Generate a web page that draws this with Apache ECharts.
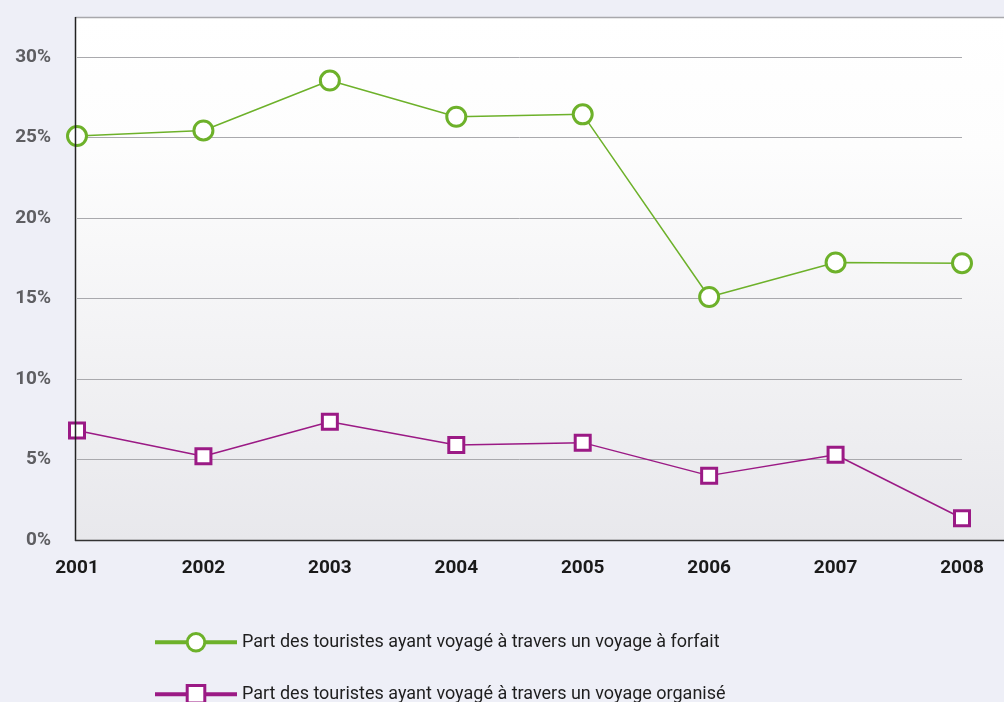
<!DOCTYPE html>
<html>
<head>
<meta charset="utf-8">
<script src="https://cdn.jsdelivr.net/npm/echarts@6/dist/echarts.min.js"></script>
<style>
  html, body { margin: 0; padding: 0; background: #eeeff7; }
  #chart { width: 1004px; height: 702px; }
</style>
</head>
<body>
<div id="chart"></div>
<script>
var years = ['2001', '2002', '2003', '2004', '2005', '2006', '2007', '2008'];
var forfait = [25.1, 25.45, 28.55, 26.3, 26.45, 15.1, 17.25, 17.2];
var organise = [6.8, 5.2, 7.35, 5.9, 6.05, 4.0, 5.3, 1.35];
var nameForfait = 'Part des touristes ayant voyagé à travers un voyage à forfait';
var nameOrganise = 'Part des touristes ayant voyagé à travers un voyage organisé';

var green = '#6db12a';
var purple = '#9b1a85';

// une légende par série, empilées
function legendFor(name, top) {
    return {
        left: 148,
        top: top,
        itemWidth: 82,
        itemHeight: 22,
        itemGap: 8,
        textStyle: { fontSize: 18, color: '#1e1e1e', fontFamily: 'Roboto' },
        lineStyle: { width: 4 },
        itemStyle: { borderWidth: 3 },
        data: [name]
    };
}

var myChart = echarts.init(document.getElementById('chart'));
var option = {
    backgroundColor: '#eeeff7',
    textStyle: { fontFamily: 'Roboto' },
    animation: false,
    grid: { left: 77, right: 42, top: 17, bottom: 162 },
    // fond de la zone de tracé (va jusqu'au bord droit)
    graphic: [
        {
            type: 'rect', z: -10, silent: true,
            shape: { x: 75, y: 17, width: 929, height: 523 },
            style: {
                fill: new echarts.graphic.LinearGradient(0, 0, 0, 1, [
                    { offset: 0, color: '#ffffff' },
                    { offset: 0.25, color: '#fdfdfd' },
                    { offset: 1, color: '#e8e8ec' }
                ])
            }
        },
        {
            type: 'line', z: 5, silent: true,
            shape: { x1: 75, y1: 17.5, x2: 1004, y2: 17.5 },
            style: { stroke: '#a8a8ac', lineWidth: 1.5 }
        },
        {
            type: 'line', z: 5, silent: true,
            shape: { x1: 75.5, y1: 17, x2: 75.5, y2: 541 },
            style: { stroke: '#222', lineWidth: 1.5 }
        },
        {
            type: 'line', z: 5, silent: true,
            shape: { x1: 75, y1: 540.5, x2: 1004, y2: 540.5 },
            style: { stroke: '#333', lineWidth: 1.5 }
        }
    ],
    legend: [legendFor(nameForfait, 627), legendFor(nameOrganise, 679)],
    xAxis: {
        type: 'category',
        boundaryGap: false,
        data: years,
        axisLine: { show: false },
        axisTick: { show: false },
        axisLabel: {
            margin: 19,
            fontSize: 19,
            fontWeight: 'bold',
            color: '#1a1a1a'
        }
    },
    yAxis: {
        type: 'value',
        min: 0,
        max: 32.5,
        interval: 5,
        axisLine: { show: false },
        axisTick: { show: false },
        splitLine: { lineStyle: { color: '#a9a9ad', width: 1 } },
        axisLabel: {
            margin: 26,
            fontSize: 19,
            fontWeight: 'bold',
            color: '#5e5e62',
            padding: [0, 0, 9, 0],
            showMaxLabel: false,
            formatter: function (v) { return v + '%'; }
        }
    },
    series: [
        {
            name: nameForfait,
            type: 'line',
            data: forfait,
            symbol: 'circle',
            symbolSize: 19,
            lineStyle: { color: green, width: 1.5 },
            itemStyle: { color: '#ffffff', borderColor: green, borderWidth: 3 }
        },
        {
            name: nameOrganise,
            type: 'line',
            data: organise,
            symbol: 'rect',
            symbolSize: 15,
            lineStyle: { color: purple, width: 1.5 },
            itemStyle: { color: '#ffffff', borderColor: purple, borderWidth: 3 }
        }
    ]
};
myChart.setOption(option);
</script>
</body>
</html>
